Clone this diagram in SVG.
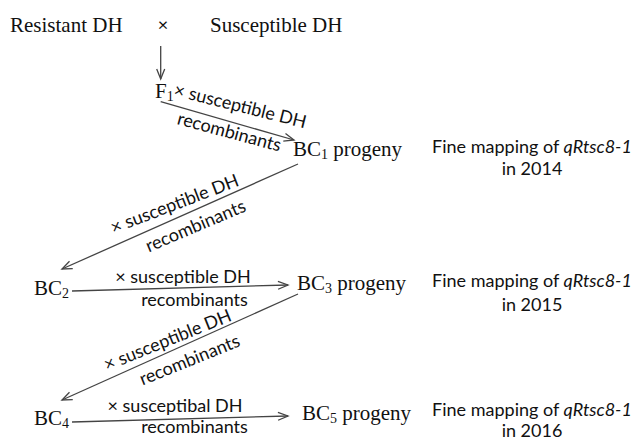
<svg xmlns="http://www.w3.org/2000/svg" width="633" height="442" viewBox="0 0 633 442">
<style>
.n{font-family:"Liberation Serif","Times New Roman",serif;font-size:21px;fill:#111}
.s{font-family:Lato,"Liberation Sans",sans-serif;font-size:18px;fill:#111}
.sub{font-size:14px}
.c{stroke:#444;stroke-width:1.3;fill:none}
</style>
<defs>
<marker id="ah" markerUnits="userSpaceOnUse" markerWidth="14" markerHeight="12" refX="11" refY="5" orient="auto">
<path d="M1,1 L11,5 L1,9" fill="none" stroke="#444" stroke-width="1.3"/>
</marker>
</defs>
<rect width="633" height="442" fill="#fff"/>
<g id="resistant"><text class="n" x="10" y="32">Resistant DH</text></g>
<g id="cross"><text class="s" x="163" y="31" text-anchor="middle">×</text></g>
<g id="susceptible"><text class="n" x="210" y="32">Susceptible DH</text></g>
<g id="f1"><text class="n" x="155" y="98">F<tspan class="sub" dy="3">1</tspan></text></g>
<g id="bc1"><text class="n" x="293" y="156">BC<tspan class="sub" dy="3">1</tspan><tspan dy="-3"> progeny</tspan></text></g>
<g id="bc2"><text class="n" x="34" y="295">BC<tspan class="sub" dy="3">2</tspan></text></g>
<g id="bc3"><text class="n" x="297" y="290">BC<tspan class="sub" dy="3">3</tspan><tspan dy="-3"> progeny</tspan></text></g>
<g id="bc4"><text class="n" x="34" y="425">BC<tspan class="sub" dy="3">4</tspan></text></g>
<g id="bc5"><text class="n" x="302" y="420">BC<tspan class="sub" dy="3">5</tspan><tspan dy="-3"> progeny</tspan></text></g>
<g id="fm2014"><text class="s" x="532" y="153" text-anchor="middle">Fine mapping of <tspan font-style="italic">qRtsc8-1</tspan></text><text class="s" x="532" y="175" text-anchor="middle">in 2014</text></g>
<g id="fm2015"><text class="s" x="532" y="287" text-anchor="middle">Fine mapping of <tspan font-style="italic">qRtsc8-1</tspan></text><text class="s" x="532" y="311" text-anchor="middle">in 2015</text></g>
<g id="fm2016"><text class="s" x="532" y="416" text-anchor="middle">Fine mapping of <tspan font-style="italic">qRtsc8-1</tspan></text><text class="s" x="532" y="437" text-anchor="middle">in 2016</text></g>
<g id="connectors">
<line class="c" x1="160.7" y1="46" x2="160.7" y2="79" marker-end="url(#ah)"/>
<line class="c" x1="160.7" y1="101.7" x2="294" y2="140" marker-end="url(#ah)"/>
<line class="c" x1="298" y1="164" x2="62" y2="269" marker-end="url(#ah)"/>
<line class="c" x1="72" y1="291" x2="288" y2="285" marker-end="url(#ah)"/>
<line class="c" x1="298" y1="294" x2="62" y2="400" marker-end="url(#ah)"/>
<line class="c" x1="72" y1="422" x2="288" y2="416" marker-end="url(#ah)"/>
<g id="labels">
<text class="s" transform="translate(240,107) rotate(14)" text-anchor="middle" y="5">× susceptible DH</text>
<text class="s" transform="translate(229,133) rotate(15)" text-anchor="middle" y="5">recombinants</text>
<text class="s" transform="translate(175,205) rotate(-21)" text-anchor="middle" y="5">× susceptible DH</text>
<text class="s" transform="translate(196,227) rotate(-23)" text-anchor="middle" y="5">recombinants</text>
<text class="s" x="183" y="283" text-anchor="middle">× susceptible DH</text>
<text class="s" x="194.5" y="306" text-anchor="middle">recombinants</text>
<text class="s" transform="translate(168,341) rotate(-22)" text-anchor="middle" y="5">× susceptible DH</text>
<text class="s" transform="translate(190,361) rotate(-22)" text-anchor="middle" y="5">recombinants</text>
<text class="s" x="175" y="412" text-anchor="middle">× susceptibal DH</text>
<text class="s" x="194.5" y="433" text-anchor="middle">recombinants</text>
</g>
</g>
</svg>
